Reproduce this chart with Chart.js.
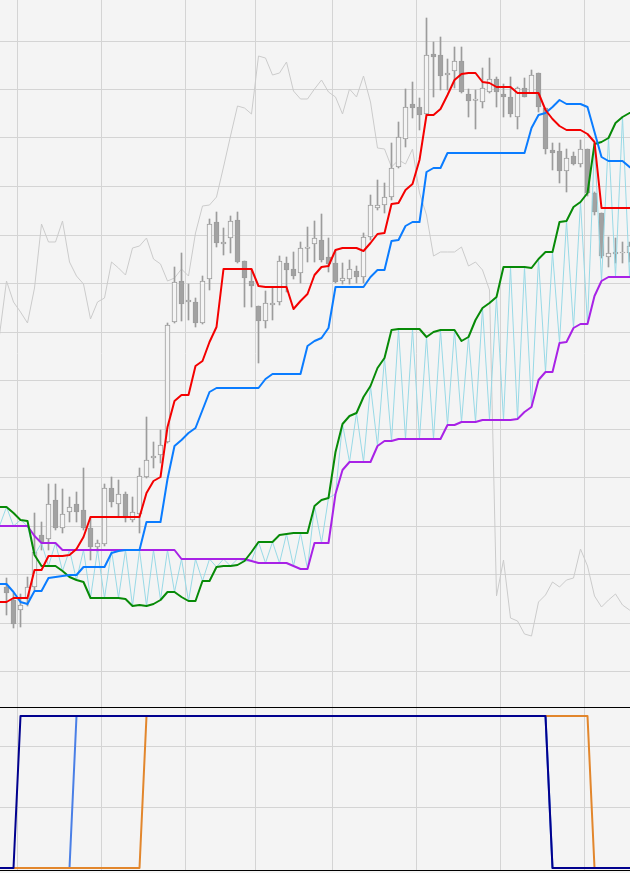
<!DOCTYPE html>
<html>
<head>
<meta charset="utf-8">
<script src="https://cdn.jsdelivr.net/npm/chart.js@4/dist/chart.umd.min.js"></script>
<style>
  html, body { margin: 0; padding: 0; background: #f4f4f4; }
  #wrap { position: relative; width: 630px; height: 873px; overflow: hidden; background: #f4f4f4; }
  #main { position: absolute; left: 0; top: 0; display: block; }
  #lowerBox { position: absolute; left: 0; top: 707px; width: 630px; height: 162px;
              border-top: 1px solid #000; border-bottom: 1px solid #000; }
  #lower { display: block; }
</style>
</head>
<body>
<div id="wrap">
  <canvas id="main" width="630" height="707"></canvas>
  <div id="lowerBox"><canvas id="lower" width="630" height="162"></canvas></div>
</div>
<script>
/* PRICE PANEL DATA (index = bar number, 92 bars) */
var open = [null,133,120,110,121,133,185,181,220,192, 208,216,210,192,173,176,232,216,226,200,
  206,243,262,265,278,398,439,418,418,397, 441,498,476,482,500,459,439,414,399,415,
  418,457,451,447,471.5,476,480,463,457,439, 441,449,443,483,512,515,523,553,581,616,
  613,606,666,665,645,649,659,626,619.5,618, 628,641,626,623,603,632,627,647,612,570,
  569,549,564,556,571,527,507,463,466,467, 467,null];
var high = [null,142,127,126,143,207,198,236,236,231, 223,228,252,203,180,236,243,240,228,223,
  252,303,278,290,397,453,467,436,422,444, 501,508,492,504,508,459,450,414,429,433,
  464,463,468,478,493,499,506,482,470,457, 460,454,487,525,540,537,577,598,631,638,
  622,702,678,683,661,673,673,631,630,652, 662,643,636,643,633,642,650,647,612,577,
  577,571,568,580,571,528,507,483,482,478, 478,null];
var low = [null,105,92,93,114,130,170,170,190,187, 198,198,190,160,168,174,213,203,198,198,
  187,242,252,257,277,397,399,400,393,396, 430,473,465,467,457,413,413,357,392,400,
  415,428,441,437,458,458,458,448,437,436, 436,437,437,480,510,507,520,552,573,602,
  590,605,623,630,630,632,627,603,591,612, 627,613,603,603,591,623,627,608,566,550,
  537,528,555,553,524,505,462,453,457,457, 458,null];
var close = [null,127,96,115,133,168,178,216,192,206, 213,208,192,173,177,232,218,226,202,208,
  244,260,264,275,395,438,416,420,397,439, 496,477,478,499,458,442,434,399,417,417,
  459,450,444,472,473,482,460,456,438,442, 451,443,483,515,515,523,552,583,613,612,
  605,665,663,644,647,659,628,619,621,632, 641,628,623,606,632,623,645,613,571,567,
  549,562,556,571,527,508,464,467,468,468, 474,null];

var tenkan = [118,118,122,122,122,150,150,164,164,164, 165,171,183,203,203,203,203,203,203,203,
  203,227,239,243,293,319,325,325,354,359, 378,393,451,451,451,451,451,434,433,433,
  433,433,411,419,426,445,453,454,470,472, 472,472,469,477,486,487,516,517,530,536,
  560,605,605,611,625,640,646,647,647,638, 637,633,633,633,627,627,627,627,610,601,
  594,590,590,590,586,578,512,512,512,512, 512,512];
var kijun = [136,136,128,118,116,129,129,142,143,144, 145,145,153,153,153,153,167,169,170,170,
  170,198,198,198,241,274,280,287,292,310, 328,332,332,332,332,332,332,332,341,346,
  346,346,346,346,374,379,382,392,433,433, 433,433,433,443,450,450,479,480,494,498,
  498,548,552,552,567,567,567,567,567,567, 567,567,567,567,567,567,592,605,607,613,
  620,616,616,616,613,588,563,559,559,559, 553,548];
var spanA = [213,213,207,200,199,165,154,154,154,149, 143,140,138,122,122,122,122,122,121,114,
  115,114,116,120,128,128,123,119,119,139, 139,153,154,154,155,159,168,178,178,178,
  185,186,187,187,187,214,220,222,268,296, 304,307,323,334,352,362,390,391,391,391,
  391,383,388,390,390,390,379,383,400,412, 417,423,453,453,453,453,452,461,468,468,
  498,499,513,518,527,576,578,582,597,603, 607,608];
var spanB = [194,194,194,194,194,184,177,177,177,170, 170,170,170,170,170,170,170,170,170,170,
  170,170,170,170,170,170,161,161,161,161, 161,161,161,161,161,161,159,157,157,157,
  157,157,154,151,151,177,177,177,226,250, 258,258,258,258,274,279,279,281,281,281,
  281,281,281,281,295,295,298,298,298,300, 300,300,300,300,301,308,313,340,348,348,
  377,378,392,396,396,424,439,443,443,443, 443,443];
var chikou = [385,439,418,408,397,432,496,478,478,499, 458,444,436,401,418,422,458,452,445,472,
  474,482,461,456,439,442,451,444,487,514, 515,523,553,584,614,612,606,664,662,645,
  647,658,629,621,621,631,640,628,623,606, 631,623,644,618,572,571,553,560,556,571,
  527,505,464,468,468,468,473,454,458,450, 430,124,160,102,99,86,84,118,125,138,
  133,140,142,171,154,124,113,120,126,115, 110,106];

/* SIGNAL PANEL DATA (0 / 1) */
var sigNavy = [0,0,0,1,1,1,1,1,1,1, 1,1,1,1,1,1,1,1,1,1, 1,1,1,1,1,1,1,1,1,1,
  1,1,1,1,1,1,1,1,1,1, 1,1,1,1,1,1,1,1,1,1, 1,1,1,1,1,1,1,1,1,1,
  1,1,1,1,1,1,1,1,1,1, 1,1,1,1,1,1,1,1,1,0, 0,0,0,0,0,0,0,0,0,0, 0,0];
var sigBlue = [0,0,0,0,0,0,0,0,0,0, 0,1,1,1,1,1,1,1,1,1, 1,1,1,1,1,1,1,1,1,1,
  1,1,1,1,1,1,1,1,1,1, 1,1,1,1,1,1,1,1,1,1, 1,1,1,1,1,1,1,1,1,1,
  1,1,1,1,1,1,1,1,1,1, 1,1,1,1,1,1,1,1,1,0, 0,0,0,0,0,0,0,0,0,0, 0,0];
var sigOrange = [0,0,0,0,0,0,0,0,0,0, 0,0,0,0,0,0,0,0,0,0, 0,1,1,1,1,1,1,1,1,1,
  1,1,1,1,1,1,1,1,1,1, 1,1,1,1,1,1,1,1,1,1, 1,1,1,1,1,1,1,1,1,1,
  1,1,1,1,1,1,1,1,1,1, 1,1,1,1,1,1,1,1,1,1, 1,1,1,1,1,0,0,0,0,0, 0,0];

/* grid positions (no labels shown) */
var xGridAt = [2.55, 14.55, 26.55, 36.55, 47.55, 59.55, 71.55, 83.55];
var yGridAt = [48.5, 97, 145.5, 194, 242.5, 291, 339.5, 388, 436.5, 485, 533.5, 582, 630.5, 679];
var yGridLower = [0.4, 0.8];

var X_MIN = 0.5 / 7, X_MAX = X_MIN + 90;
var GRID = '#d4d4d4';

function pts(arr) {
  return arr.map(function (v, i) { return { x: i, y: v }; });
}

/* candles as floating bars */
var wicks = [], bodies = [], bodyFill = [];
for (var i = 0; i < open.length; i++) {
  if (open[i] == null) continue;
  wicks.push({ x: i, y: [low[i], high[i]] });
  bodies.push({ x: i, y: [open[i], close[i]] });
  bodyFill.push(close[i] >= open[i] ? '#f4f4f4' : '#a2a2a2');
}
var cloudZig = spanA.map(function (a, i) { return { x: i, y: i % 2 ? a : spanB[i] }; });

function xScale() {
  return {
    type: 'linear', min: X_MIN, max: X_MAX, offset: false, bounds: 'data',
    grid: { color: GRID, offset: false, drawTicks: false },
    border: { display: false },
    ticks: { display: false },
    afterBuildTicks: function (s) { s.ticks = xGridAt.map(function (v) { return { value: v }; }); }
  };
}
function yScale(min, max, at) {
  return {
    type: 'linear', min: min, max: max, bounds: 'data',
    grid: { color: GRID, drawTicks: false },
    border: { display: false },
    ticks: { display: false },
    afterBuildTicks: function (s) { s.ticks = at.map(function (v) { return { value: v }; }); }
  };
}
function line(data, color, width, order) {
  return { type: 'line', data: data, borderColor: color, borderWidth: width, order: order,
           pointRadius: 0, tension: 0, fill: false, borderJoinStyle: 'round', borderCapStyle: 'round' };
}
var common = {
  responsive: false,
  animation: false,
  events: [],
  layout: { padding: 0 },
  plugins: { legend: { display: false }, tooltip: { enabled: false } }
};

/* MAIN CHART */
new Chart(document.getElementById('main'), {
  type: 'line',
  data: {
    datasets: [
      line(pts(chikou), '#cbcbcb', 1, 10),
      { type: 'bar', data: wicks, backgroundColor: '#9c9c9c', borderWidth: 0,
        barThickness: 1, grouped: false, order: 9 },
      { type: 'bar', data: bodies, backgroundColor: bodyFill, borderColor: '#9c9c9c',
        borderWidth: 1, borderSkipped: false, barThickness: 5, grouped: false, order: 8 },
      line(cloudZig, '#98d9e6', 1, 7),
      line(pts(spanB), '#a822e6', 2, 6),
      line(pts(spanA), '#078a07', 2, 5),
      line(pts(kijun), '#0a7cff', 2, 4),
      line(pts(tenkan), '#f40000', 2, 3)
    ]
  },
  options: Object.assign({}, common, {
    scales: { x: xScale(), y: yScale(13, 720, yGridAt) }
  })
});

/* SIGNAL CHART */
new Chart(document.getElementById('lower'), {
  type: 'line',
  data: {
    datasets: [
      line(pts(sigNavy), '#00008e', 2, 1),
      line(pts(sigOrange), '#e2862c', 2, 2),
      line(pts(sigBlue), '#4a7fe6', 2, 3)
    ]
  },
  options: Object.assign({}, common, {
    scales: { x: xScale(), y: yScale(-0.0132, 1.0526, yGridLower) }
  })
});
</script>
</body>
</html>
